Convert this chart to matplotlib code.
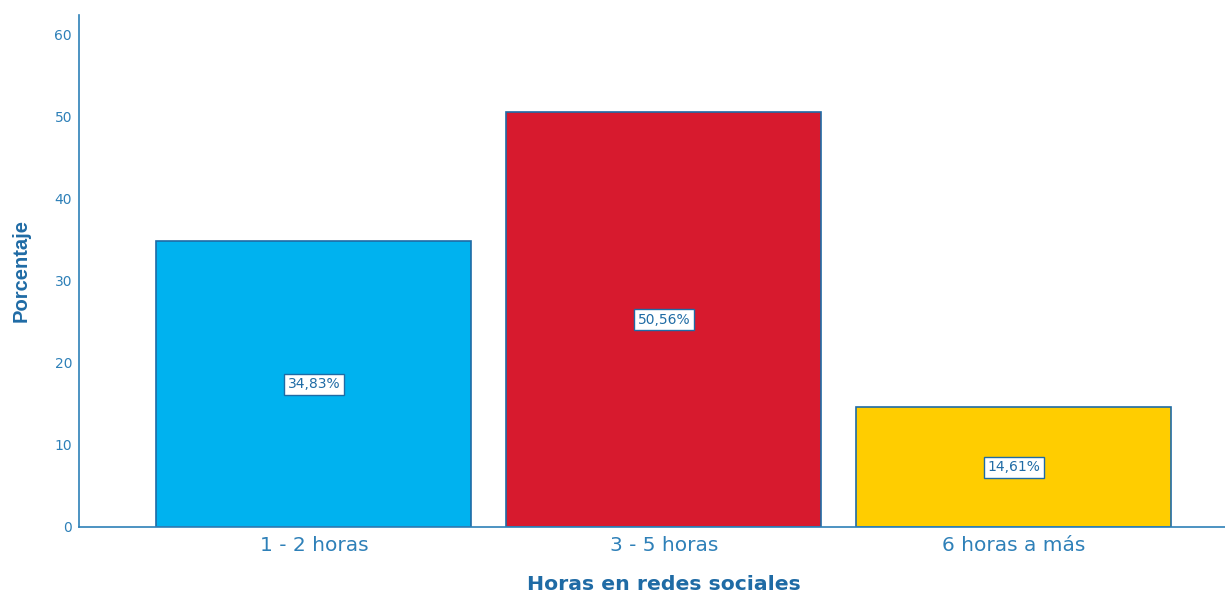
import matplotlib
matplotlib.use("Agg")
from matplotlib import pyplot as plt

categories = ["1 - 2 horas", "3 - 5 horas", "6 horas a más"]
values = [34.83, 50.56, 14.61]
labels = ["34,83%", "50,56%", "14,61%"]
colors = ["#00B2EF", "#D71A2E", "#FFCD00"]
yticks = [0, 10, 20, 30, 40, 50, 60]

edge = "#1F6BA5"
text_c = "#1F6BA5"
tick_c = "#2E80B8"

plt.rcParams["font.family"] = ["DejaVu Sans"]

fig = plt.figure(figsize=(12.25, 5.93), dpi=100)
ax = fig.add_axes([79 / 1225, 66 / 593, 1146 / 1225, 512 / 593])

x = list(range(len(categories)))
ax.bar(x, values, width=0.9, color=colors, edgecolor=edge, linewidth=1.2)

# value labels in white boxes, halfway up each bar
for xi, v, lab in zip(x, values, labels):
    ax.text(xi, v / 2, lab, ha="center", va="center", fontsize=10, color=text_c,
            bbox=dict(boxstyle="square,pad=0.25", fc="white", ec=edge, lw=1))

ax.set_xlim(-0.671, 2.603)
ax.set_ylim(0, 62.4)
ax.set_yticks(yticks)
ax.set_yticklabels([str(t) for t in yticks], fontsize=10, color=tick_c)
ax.set_xticks(x)
ax.set_xticklabels(categories, fontsize=14.5, color=tick_c)
ax.tick_params(axis="both", length=0)
ax.tick_params(axis="y", pad=5)
ax.tick_params(axis="x", pad=6.5)

for s in ["top", "right"]:
    ax.spines[s].set_visible(False)
for s in ["left", "bottom"]:
    ax.spines[s].set_color(tick_c)
    ax.spines[s].set_linewidth(1.2)

ax.set_xlabel("Horas en redes sociales", fontsize=14.7, fontweight="bold", color=text_c)
ax.xaxis.set_label_coords(0.5105, -0.093)
ax.set_ylabel("Porcentaje", fontsize=14.5, fontweight="bold", color=text_c, labelpad=17,
              family=["Liberation Sans", "DejaVu Sans"])

fig.savefig("out.png", dpi=100)
